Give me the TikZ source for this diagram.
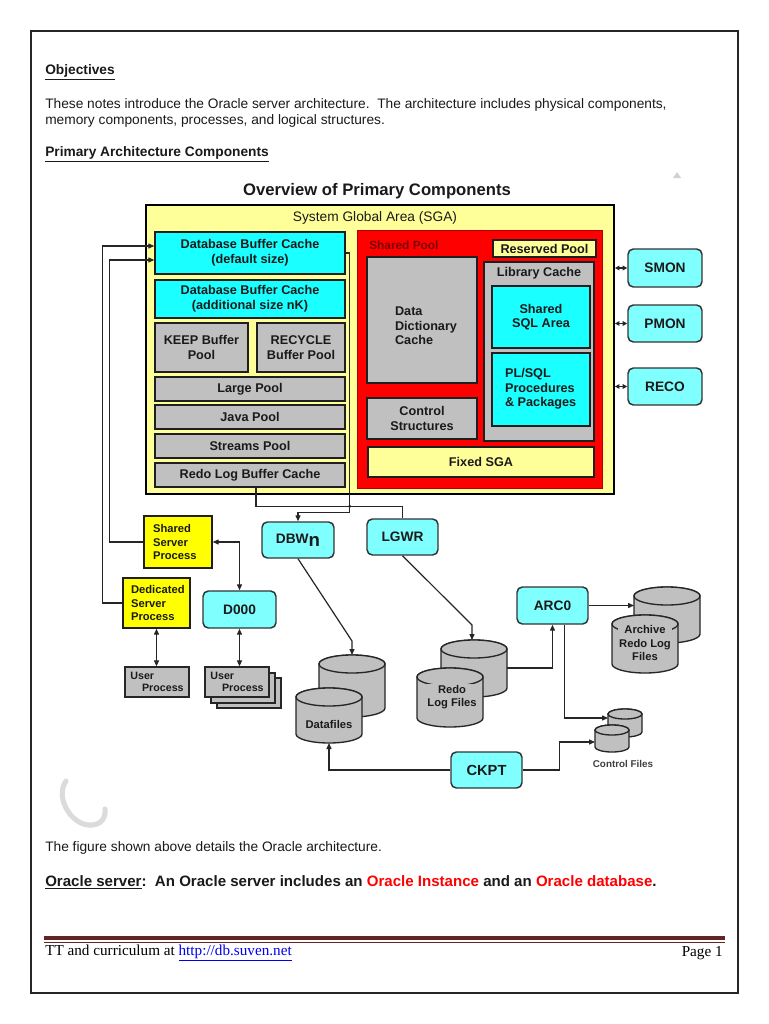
\documentclass[tikz,border=0pt]{standalone}
\usepackage{fontspec}
\setmainfont{Liberation Sans}
\newfontfamily\serifft{Liberation Serif}
\usetikzlibrary{arrows.meta,calc}
\definecolor{sgay}{HTML}{FFFF99}
\definecolor{bcyan}{HTML}{1AFFFF}
\definecolor{pcyan}{HTML}{80FFFF}
\definecolor{bgray}{HTML}{C0C0C0}
\definecolor{shred}{HTML}{FF0000}
\definecolor{dkred}{HTML}{7A0000}
\definecolor{brighty}{HTML}{FFFF00}
\definecolor{maroonr}{HTML}{632523}
\definecolor{linkb}{HTML}{0000EE}
\definecolor{txt}{HTML}{1A1A1A}
\newcommand{\cylndr}[5]{%
  \filldraw[cylst] (#1-#4,#2) -- (#1-#4,#3) arc[start angle=180,end angle=0,x radius=#4,y radius=#5] -- (#1+#4,#2) arc[start angle=0,end angle=-180,x radius=#4,y radius=#5] -- cycle;
  \draw[cylst] (#1,#2) ellipse[x radius=#4,y radius=#5];}
\tikzset{
  wh/.style 2 args={minimum width=#1*0.75pt, minimum height=#2*0.75pt},
  bx/.style={draw=black!88, line width=1.1pt, inner sep=1pt, text=txt, align=center,
     font=\fontsize{9.5}{11}\selectfont\bfseries},
  cyanbox/.style={bx, fill=bcyan},
  graybox/.style={bx, fill=bgray},
  procbox/.style={draw=black!80, line width=1.1pt, fill=pcyan, rounded corners=4pt, text=txt,
     font=\fontsize{10.3}{12}\selectfont\bfseries, inner sep=1pt},
  ybox/.style={bx, fill=brighty, font=\fontsize{8.4}{10.2}\selectfont\bfseries, align=left},
  ubox/.style={draw=black!85, line width=1pt, fill=bgray, font=\fontsize{8}{9.5}\selectfont\bfseries, align=left, text=txt},
  cylst/.style={draw=black!85, line width=1pt, fill=bgray},
  cyllab/.style={font=\fontsize{8.4}{10}\selectfont\bfseries, align=center, text=txt, inner sep=0.8pt, fill=bgray},
  conn/.style={draw=black!85, line width=0.9pt},
  arr/.style={conn, -{Triangle[length=4.5pt,width=3.8pt]}},
  darr/.style={conn, {Triangle[length=4.5pt,width=3.8pt]}-{Triangle[length=4.5pt,width=3.8pt]}},
  sarr/.style={conn, {Triangle[length=3.4pt,width=3.4pt]}-{Triangle[length=3.4pt,width=3.4pt]}},
  body/.style={anchor=west, inner sep=0pt, text=txt, font=\fontsize{10.3}{12}\selectfont, align=left},
  bodyb/.style={body, font=\fontsize{10.3}{12}\selectfont\bfseries},
}
\begin{document}
\begin{tikzpicture}[x=0.75pt,y=-0.75pt]
\useasboundingbox (0,0) rectangle (768,1024);
\fill[white] (0,0) rectangle (768,1024);
\draw[black!85, line width=0.9pt] (31,31) rectangle (738,993);

% page text
\node[bodyb] (obj) at (45,72) {\underline{Objectives}};
\node[body] (para) at (45,113) {These notes introduce the Oracle server architecture.\ \ The architecture includes physical components,\\memory components, processes, and logical structures.};
\node[bodyb] (prim) at (45,154) {\underline{Primary Architecture Components}};

% watermark bits
\fill[black!18] (673,178) -- (677,172) -- (681,178) -- cycle;
\draw[black!14, line width=3.8pt, line cap=round] (66,781) .. controls (55,797) and (70,823) .. (88,825) .. controls (101,826) and (106,818) .. (105,809);

% title
\node[font=\fontsize{12.5}{14}\selectfont\bfseries, text=txt] (title) at (377,191) {Overview of Primary Components};

% SGA
\node[draw=black, line width=1.3pt, fill=sgay, wh={468}{289}] (sga) at (380,349.5) {};
\node[font=\fontsize{10.3}{12}\selectfont, text=txt] (sgalab) at (375,218) {System Global Area (SGA)};

\node[cyanbox, wh={190}{42}] (dbbc1) at (250,253) {Database Buffer Cache\\(default size)};
\node[cyanbox, wh={190}{38}] (dbbc2) at (250,299) {Database Buffer Cache\\(additional size nK)};
\node[graybox, wh={93}{49}] (keep) at (201.5,347.5) {KEEP Buffer\\Pool};
\node[graybox, wh={88}{49}] (recyc) at (301,347.5) {RECYCLE\\Buffer Pool};
\node[graybox, wh={190}{24}] (large) at (250,389) {Large Pool};
\node[graybox, wh={190}{24}] (java) at (250,417) {Java Pool};
\node[graybox, wh={190}{24}] (streams) at (250,446) {Streams Pool};
\node[graybox, wh={190}{24}] (redobuf) at (250,475) {Redo Log Buffer Cache};

\node[fill=shred, draw=shred!70!black, line width=0.6pt, wh={245}{258}] (shpool) at (479.5,359) {};
\node[anchor=west, font=\fontsize{8.9}{10}\selectfont\bfseries, text=dkred, inner sep=0pt] (shlab) at (369,245) {Shared Pool};
\node[bx, fill=sgay, wh={103}{17}] (reserved) at (544.5,248.5) {Reserved Pool};
\node[graybox, wh={110}{126}] (ddc) at (422,320) {};
\node[bx, draw=none, fill=none, anchor=west, align=left] (ddclab) at (393,326) {Data\\Dictionary\\Cache};
\node[graybox, wh={110}{41}] (ctrl) at (422,418.5) {Control\\Structures};
\node[graybox, wh={110}{179}] (lib) at (539,351.5) {};
\node[bx, draw=none, fill=none] (liblab) at (539,273) {Library Cache};
\node[cyanbox, wh={98}{62}] (sql) at (541,317) {Shared\\SQL Area};
\node[cyanbox, wh={98}{73}] (plsql) at (541,389.5) {};
\node[bx, draw=none, fill=none, anchor=west, align=left] (plsqllab) at (503,389) {PL/SQL\\Procedures\\\& Packages};
\node[bx, fill=sgay, wh={226}{30}] (fixed) at (481,462) {Fixed SGA};

% background processes
\node[procbox, wh={74}{38}] (smon) at (665,268) {SMON};
\node[procbox, wh={74}{37}] (pmon) at (665,323.5) {PMON};
\node[procbox, wh={74}{37}] (reco) at (665,386.5) {RECO};
\draw[sarr] (sga.east |- smon.west) -- (smon.west);
\draw[sarr] (sga.east |- pmon.west) -- (pmon.west);
\draw[sarr] (sga.east |- reco.west) -- (reco.west);

% server processes
\node[ybox, wh={68}{52}] (ss) at (178,542) {};
\node[ybox, draw=none, fill=none, anchor=west] (sslab) at (151,542) {Shared\\Server\\Process};
\node[ybox, wh={67}{50}] (ded) at (156.5,603) {};
\node[ybox, draw=none, fill=none, anchor=west] (dedlab) at (129,603) {Dedicated\\Server\\Process};
\node[procbox, wh={73}{37}] (d000) at (239.5,609.5) {D000};

\node[ubox, wh={64}{30}] (user1) at (157,682) {User\\\hspace{1.1em}Process};
\node[ubox, wh={64}{30}] (user2c) at (249,693) {};
\node[ubox, wh={64}{30}] (user2b) at (243,688) {};
\node[ubox, wh={64}{30}] (user2) at (237,682) {User\\\hspace{1.1em}Process};

\node[procbox, wh={72}{36}] (dbw) at (298,540) {DBW\raisebox{-2.5pt}{\fontsize{14}{14}\selectfont n}};
\node[procbox, wh={71}{36}] (lgwr) at (402.5,537) {LGWR};
\node[procbox, wh={71}{37}] (arc0) at (552.5,605.5) {ARC0};
\node[procbox, font=\fontsize{11}{12}\selectfont\bfseries, wh={71}{36}] (ckpt) at (486.5,770) {CKPT};

% files
\cylndr{352}{664}{708}{33}{9}
\cylndr{329}{697}{734}{33}{9}
\node[cyllab] (datafiles) at (329,724) {Datafiles};
\cylndr{474}{649}{688}{33}{9}
\cylndr{450}{677}{718}{33}{9}
\node[cyllab] (redofiles) at (452,697) {Redo\\Log Files};
\cylndr{667}{596}{634}{33}{9}
\cylndr{645}{624}{664}{33}{9}
\node[cyllab] (archfiles) at (645,643) {Archive\\Redo Log\\Files};
\cylndr{625}{714}{732}{17}{5}
\cylndr{612}{730}{747}{17}{5}
\node[cyllab, fill=none, font=\fontsize{7.4}{9}\selectfont\bfseries, text=black!75] (ctlfiles) at (623,764) {Control Files};

\coordinate (df-top) at (352,655);
\coordinate (df-bot) at (329,743);
\coordinate (redo-top) at (472,640);
\coordinate (redo-e) at (507,668);
\coordinate (arch-w) at (634,605.5);
\coordinate (ctl-w) at (608,718);
\coordinate (ctl2-w) at (595,742);

% connectors
\draw[arr] (ded.west) -- ++(-20,0) |- ($(dbbc1.west)+(0,-7)$);
\draw[arr] (ss.west) -- ++(-34,0) |- ($(dbbc1.west)+(0,7)$);
\coordinate (jx) at ($(dbbc1.east)+(4,0)$);
\coordinate (jy) at ($(lgwr.north)+(0,-12)$);
\draw[arr] (dbbc1.east) -- (jx) |- ($(dbw.north)+(0,-9)$) -- (dbw.north);
\draw[conn] ($(redobuf.south)+(6,0)$) |- (jy) -- (lgwr.north);
\fill[black!85] (jx |- jy) circle[radius=1.3pt];
\draw[darr] (ss.east) -| (d000.north);
\draw[darr] (ded.south) -- (ded.south |- user1.north);
\draw[darr] (d000.south) -- (d000.south |- user2.north);
\draw[arr] (dbw.south) -- ($(df-top)+(0,-14)$) -- (df-top);
\draw[arr] (lgwr.south) -- ($(redo-top)+(0,-15)$) -- (redo-top);
\draw[arr] (redo-e) -| (arc0.south);
\draw[arr] (arc0.east) -- (arch-w);
\draw[arr] ($(arc0.south)+(12,0)$) |- (ctl-w);
\draw[arr] (ckpt.west) -| (df-bot);
\draw[arr] (ckpt.east) -- ++(37,0) |- (ctl2-w);

% lower text
\node[body] (fig) at (45,848) {The figure shown above details the Oracle architecture.};
\node[bodyb, font=\fontsize{11.3}{13}\selectfont\bfseries] (srv) at (45,882) {\underline{Oracle server}:\ \ An Oracle server includes an \textcolor{red}{Oracle Instance} and an \textcolor{red}{Oracle database}.};

% footer
\draw[maroonr, line width=3pt] (44,938) -- (725,938);
\draw[maroonr, line width=0.5pt] (44,942.5) -- (725,942.5);
\node[anchor=west, inner sep=0pt, font=\serifft\fontsize{11.4}{13}\selectfont] (foot) at (45,953) {TT and curriculum at \textcolor{linkb}{\underline{http://db.suven.net}}};
\node[anchor=east, inner sep=0pt, font=\serifft\fontsize{11.4}{13}\selectfont] (page) at (723,953) {Page 1};
\end{tikzpicture}
\end{document}
